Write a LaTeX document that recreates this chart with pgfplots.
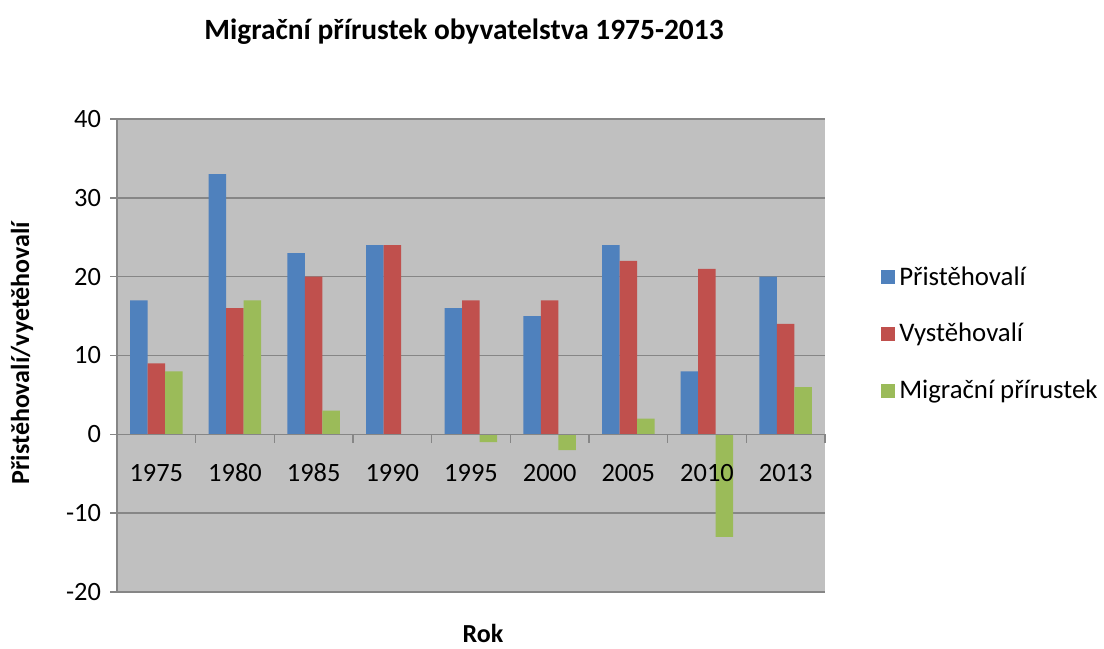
\documentclass[border=0pt]{standalone}
\usepackage{pgfplots}
\pgfplotsset{compat=1.18}
\usepackage{fontspec}
\setmainfont{Carlito}
\definecolor{cblue}{HTML}{4F81BD}
\definecolor{cred}{HTML}{C0504D}
\definecolor{cgreen}{HTML}{9BBB59}
\definecolor{plotbg}{HTML}{C0C0C0}
\definecolor{gridc}{HTML}{868686}
\begin{document}
\begin{tikzpicture}[x=1pt,y=1pt]
\path (0,0) rectangle (552,321.5);
\begin{axis}[
  at={(58.5pt,25.5pt)}, anchor=south west,
  scale only axis, width=354pt, height=236.5pt,
  xmin=0.5, xmax=9.5, ymin=-20, ymax=40,
  ytick={-20,-10,...,40},
  xtick=\empty,
  axis lines*=left,
  ymajorgrids, grid style={gridc, line width=0.7pt},
  axis background/.style={fill=plotbg},
  axis line style={gridc, line width=0.7pt},
  y tick style={gridc, line width=0.7pt},
  tick align=outside, major tick length=3.5pt,
  yticklabel style={xshift=-1pt},
  ybar=0pt, bar width=8.75pt,
  font=\fontsize{13.2}{15}\selectfont,
  tick label style={font=\fontsize{13.2}{15}\selectfont},
  /pgf/number format/assume math mode=true,
  legend style={at={(1.079,0.5455)}, anchor=west, draw=none, fill=none,
    inner sep=0pt, row sep=13.5pt, font=\fontsize{13.4}{15}\selectfont,
    cells={anchor=west}, /tikz/every even column/.append style={column sep=1.5pt}},
  legend image code/.code={\fill[#1] (0pt,-3.5pt) rectangle (7pt,3.5pt);},
]
\addplot[fill=cblue, draw=none] coordinates {(1,17) (2,33) (3,23) (4,24) (5,16) (6,15) (7,24) (8,8) (9,20)};
\addplot[fill=cred, draw=none] coordinates {(1,9) (2,16) (3,20) (4,24) (5,17) (6,17) (7,22) (8,21) (9,14)};
\addplot[fill=cgreen, draw=none] coordinates {(1,8) (2,17) (3,3) (4,0) (5,-1) (6,-2) (7,2) (8,-13) (9,6)};
\legend{Přistěhovalí,Vystěhovalí,Migrační přírustek}
\end{axis}
\begin{axis}[
  at={(58.5pt,25.5pt)}, anchor=south west,
  scale only axis, width=354pt, height=236.5pt,
  xmin=0.5, xmax=9.5, ymin=-20, ymax=40,
  axis line style={draw=none},
  ytick=\empty,
  xtick={1,...,9},
  xticklabels={1975,1980,1985,1990,1995,2000,2005,2010,2013},
  x tick style={draw=none},
  xticklabel style={anchor=center, yshift=59.5pt},
  tick label style={font=\fontsize{13.2}{15}\selectfont},
  /pgf/number format/assume math mode=true,
  clip=false,
]
\draw[gridc, line width=0.7pt] (axis cs:0.5,0) -- (axis cs:9.5,0);
\pgfplotsinvokeforeach{1.5,2.5,3.5,4.5,5.5,6.5,7.5,8.5,9.5}{\draw[gridc, line width=0.7pt] (axis cs:#1,0) -- (axis cs:#1,-1.1);}
\end{axis}
\node[font=\fontsize{14.7}{17}\selectfont\bfseries] at (232,305.5) {Migrační přírustek obyvatelstva 1975-2013};
\node[font=\fontsize{13}{15}\selectfont\bfseries] at (241.5,5) {Rok};
\node[font=\fontsize{13}{15}\selectfont\bfseries, rotate=90] at (11,145) {Přistěhovalí/vyetěhovalí};
\end{tikzpicture}
\end{document}
